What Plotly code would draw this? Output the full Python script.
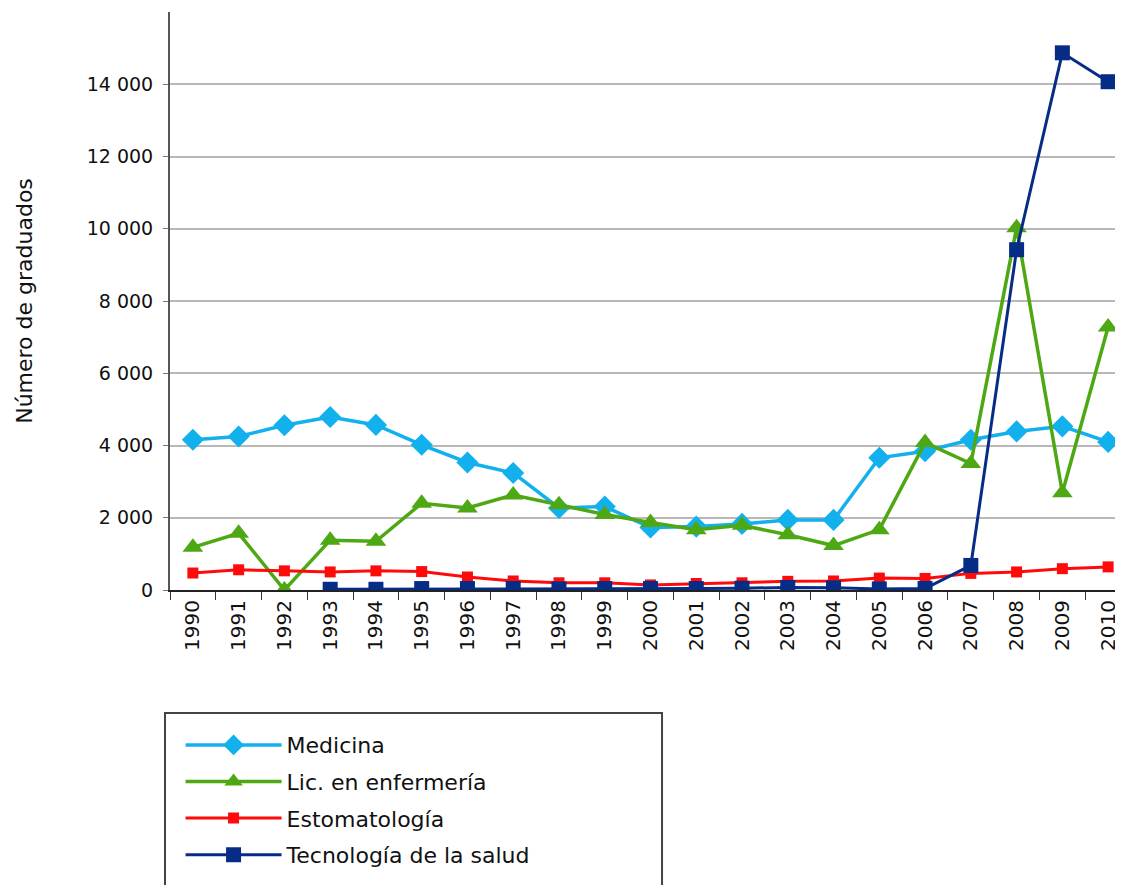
import plotly.graph_objects as go

years = [str(y) for y in range(1990, 2011)]

medicina = [4160, 4250, 4560, 4790, 4570, 4020, 3530, 3240, 2270, 2310, 1730,
            1755, 1830, 1940, 1940, 3660, 3840, 4160, 4390, 4530, 4100]
enfermeria = [1180, 1570, 0, 1380, 1350, 2400, 2270, 2630, 2360, 2090, 1870,
              1670, 1790, 1530, 1230, 1670, 4080, 3500, 10030, 2690, 7280]
estomatologia = [470, 560, 530, 500, 530, 510, 360, 250, 200, 200, 140,
                 180, 200, 240, 250, 330, 320, 460, 500, 590, 640]
tecnologia = [None, None, None, 20, 20, 40, 40, 40, 30, 40, 40,
              40, 50, 70, 60, 30, 40, 680, 9420, 14870, 14070]

y_ticks = [0, 2000, 4000, 6000, 8000, 10000, 12000, 14000]
y_labels = ["0", "2 000", "4 000", "6 000", "8 000", "10 000", "12 000", "14 000"]

series = [
    ("Medicina", medicina, "#12b0ec", "diamond", 17, 3.5),
    ("Lic. en enfermería", enfermeria, "#4ea814", "triangle-up", 18, 3.5),
    ("Estomatología", estomatologia, "#ff0a0a", "square", 11, 3),
    ("Tecnología de la salud", tecnologia, "#062c85", "square", 15, 3),
]

fig = go.Figure()
for i, (name, vals, col, sym, msize, lw) in enumerate(series):
    fig.add_trace(go.Scatter(
        x=years, y=vals, name=name, mode="lines+markers",
        line=dict(color=col, width=lw),
        marker=dict(symbol=sym, size=msize, color=col),
        legendgroup=f"g{i}",
    ))

font_family = "DejaVu Sans, Verdana, sans-serif"

fig.update_layout(
    width=1123, height=885,
    margin=dict(l=162, r=0, t=4, b=303),
    plot_bgcolor="white", paper_bgcolor="white",
    font=dict(family=font_family, color="#111111", size=19),
    showlegend=True,
    legend=dict(
        x=0.011, y=-0.232, xanchor="left", yanchor="top",
        orientation="v",
        font=dict(size=22, family=font_family, color="#111111"),
        itemwidth=96,
        tracegroupgap=5,
        bgcolor="rgba(0,0,0,0)",
        borderwidth=0,
    ),
    xaxis=dict(
        type="category",
        categoryorder="array", categoryarray=years,
        range=[-0.5, 20.5],
        showgrid=False,
        showline=True, linecolor="#222222", linewidth=2,
        ticks="outside", tickson="boundaries", ticklen=8, tickcolor="#333333",
        tickangle=-90,
        tickfont=dict(size=20, family=font_family),
        zeroline=False,
    ),
    yaxis=dict(
        range=[0, 16000],
        tickvals=y_ticks, ticktext=y_labels,
        showgrid=True, gridcolor="#b8b8b8", gridwidth=2,
        showline=True, linecolor="#555555", linewidth=2,
        ticks="outside", ticklen=5, tickcolor="#777777",
        ticklabelstandoff=6,
        tickfont=dict(size=19, family=font_family),
        zeroline=False,
        title=dict(text="Número de graduados", font=dict(size=22, family=font_family),
                   standoff=48),
    ),
    shapes=[dict(
        type="rect", xref="paper", yref="paper",
        x0=-0.0052, x1=0.512, y0=-0.56, y1=-0.2128,
        line=dict(color="#444444", width=2), fillcolor="rgba(0,0,0,0)",
        layer="below",
    )],
)

fig.write_html("out.html")
